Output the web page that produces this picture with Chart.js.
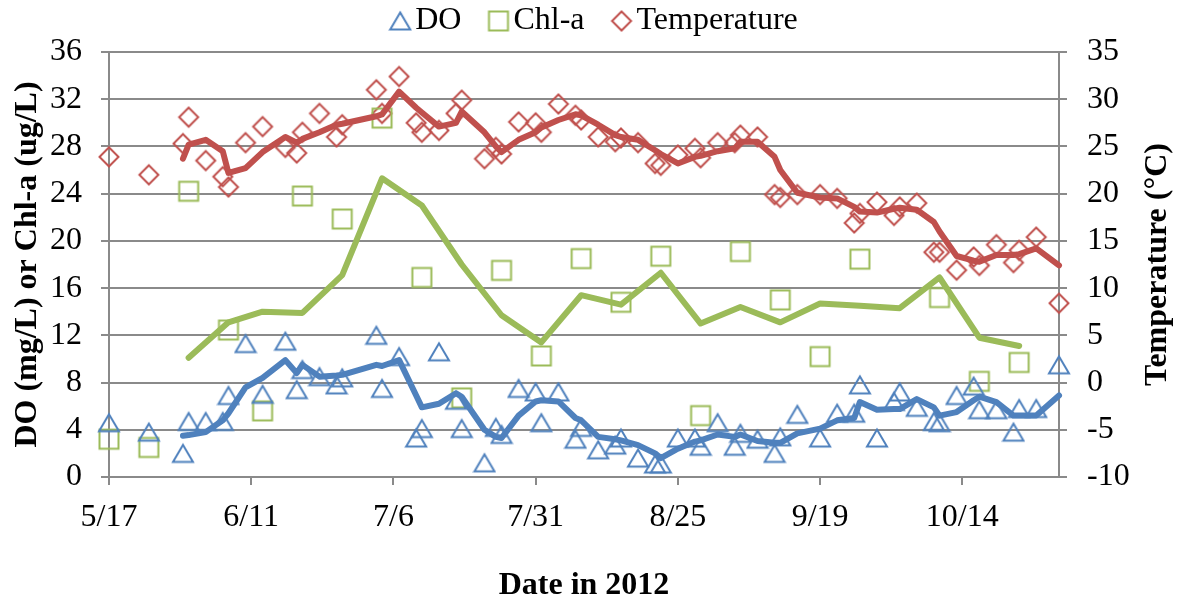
<!DOCTYPE html>
<html>
<head>
<meta charset="utf-8">
<script src="https://cdn.jsdelivr.net/npm/chart.js@4.4.1/dist/chart.umd.min.js"></script>
<style>
  html, body { margin: 0; padding: 0; background: #fff; }
  canvas { display: block; }
</style>
</head>
<body>
<canvas id="chart" width="1177" height="602"></canvas>
<script>
// sampling dates (DO and temperature measured on the same days)
const sampleDates = ['5/17','5/24','5/30','5/31','6/3','6/6','6/7','6/10','6/13','6/17',
  '6/19','6/20','6/23','6/26','6/27','7/3','7/4','7/7','7/10','7/11',
  '7/14','7/17','7/18','7/22','7/24','7/25','7/28','7/31','8/1','8/4',
  '8/7','8/8','8/11','8/14','8/15','8/18','8/21','8/22','8/25','8/28',
  '8/29','9/1','9/4','9/5','9/8','9/11','9/12','9/15','9/19','9/22',
  '9/25','9/26','9/29','10/2','10/3','10/6','10/9','10/10','10/13','10/16',
  '10/17','10/20','10/23','10/24','10/27','10/31'];

const doValues = [4.6, 3.8, 2.0, 4.7, 4.7, 4.7, 6.9, 11.3, 7.0, 11.5,
  7.4, 9.1, 8.5, 7.8, 8.4, 12.0, 7.5, 10.2, 3.3, 4.1,
  10.6, 6.5, 4.1, 1.2, 4.2, 3.6, 7.5, 7.2, 4.6, 7.2,
  3.2, 4.2, 2.3, 2.7, 3.3, 1.6, 1.1, 1.1, 3.3, 3.3,
  2.6, 4.6, 2.6, 3.7, 3.2, 2.0, 3.4, 5.3, 3.3, 5.4,
  5.4, 7.8, 3.3, 6.4, 7.2, 5.9, 4.7, 4.6, 6.9, 7.7,
  5.7, 5.7, 3.8, 5.8, 5.8, 9.5];

const doTrend = [null, null, 3.5, 3.55, 3.8, 4.8, 5.4, 7.6, 8.4, 9.9,
  8.8, 9.5, 8.5, 8.6, 8.65, 9.5, 9.4, 9.9, 6.9, 5.9,
  6.2, 7.1, 6.8, 4.0, 3.4, 3.3, 5.2, 6.4, 6.5, 6.4,
  5.0, 4.8, 3.4, 3.2, 3.1, 2.7, 2.0, 1.6, 2.4, 3.0,
  3.1, 3.6, 3.4, 3.6, 3.05, 2.9, 2.9, 3.7, 4.1, 4.8,
  5.0, 6.35, 5.7, 5.75, 5.75, 6.6, 5.9, 5.2, 5.5, 6.5,
  6.8, 6.35, 5.2, 5.2, 5.2, 6.9];

const tempValues = [23.9, 22.0, 25.3, 28.1, 23.5, 21.8, 20.7, 25.4, 27.1, 24.9,
  24.3, 26.5, 28.5, 26.0, 27.3, 31.0, 28.5, 32.4, 27.5, 26.5,
  26.7, 28.5, 29.9, 23.7, 24.9, 24.2, 27.6, 27.5, 26.5, 29.5,
  28.3, 27.8, 26.0, 25.5, 25.9, 25.4, 23.2, 23.0, 24.1, 24.8,
  23.8, 25.4, 25.4, 26.2, 26.0, 19.9, 19.6, 19.9, 19.9, 19.5,
  16.9, 17.9, 19.1, 17.7, 18.6, 19.0, 13.8, 13.8, 11.9, 13.3,
  12.4, 14.6, 12.7, 14.0, 15.4, 8.4];

const tempTrend = [null, null, 23.7, 25.2, 25.7, 24.5, 22.2, 22.7, 24.4, 26.0,
  25.4, 25.8, 26.5, 27.3, 27.4, 28.2, 28.4, 30.8, 29.1, 28.6,
  27.1, 27.5, 28.7, 26.5, 25.0, 24.4, 25.7, 26.5, 27.0, 27.8,
  28.4, 28.3, 27.3, 26.2, 26.0, 25.7, 24.6, 24.2, 23.2, 23.9,
  24.0, 24.5, 24.8, 25.5, 25.5, 23.9, 22.5, 20.1, 19.6, 19.5,
  18.6, 18.1, 18.0, 18.4, 18.5, 18.3, 17.0, 16.0, 13.4, 12.9,
  12.8, 13.5, 13.5, 13.6, 14.2, 12.4];

// Chl-a sampled weekly
const chlDates = ['5/17','5/24','5/31','6/7','6/13','6/20','6/27','7/4','7/11','7/18',
  '7/25','8/1','8/8','8/15','8/22','8/29','9/5','9/12','9/19','9/26',
  '10/10','10/17','10/24'];
const chlValues = [3.2, 2.5, 24.2, 12.45, 5.6, 23.8, 21.85, 30.4, 16.9, 6.7,
  17.5, 10.25, 18.5, 14.8, 18.7, 5.2, 19.1, 15.0, 10.2, 18.45,
  15.2, 8.1, 9.7];

const chlTrendDates = ['5/31','6/7','6/13','6/20','6/27','7/4','7/11','7/18','7/25','8/1',
  '8/8','8/15','8/22','8/29','9/5','9/12','9/19','9/26','10/3','10/10',
  '10/17','10/24'];
const chlTrend = [10.1, 13.1, 14.0, 13.9, 17.1, 25.3, 23.0, 18.0, 13.7, 11.4,
  15.4, 14.6, 17.3, 13.0, 14.4, 13.1, 14.7, 14.5, 14.3, 16.9,
  11.8, 11.1];

const xTickLabels = ['5/17','6/11','7/6','7/31','8/25','9/19','10/14'];
const xEnd = '10/31';

const FONT = "'Times New Roman', 'Liberation Serif', serif";
const FS = 32;
const GRID = '#8a8a8a';
const BLUE = '#4f81bd', GREEN = '#9bbb59', RED = '#c0504d';

// days since 5/17/2012
function dayOf(s) {
    const [m, d] = s.split('/').map(Number);
    return (Date.UTC(2012, m - 1, d) - Date.UTC(2012, 4, 17)) / 86400000;
}
function dateLabel(v) {
    const dt = new Date(Date.UTC(2012, 4, 17) + v * 86400000);
    return (dt.getUTCMonth() + 1) + '/' + dt.getUTCDate();
}
function points(dates, values) {
    const out = [];
    dates.forEach((d, i) => {
        if (values[i] !== null) out.push({ x: dayOf(d), y: values[i] });
    });
    return out;
}

// hollow marker images
function marker(kind, color) {
    const c = document.createElement('canvas');
    c.width = 24; c.height = 24;
    const g = c.getContext('2d');
    g.strokeStyle = color;
    g.lineWidth = 2;
    g.beginPath();
    if (kind === 'tri') {
        g.moveTo(12, 3.5); g.lineTo(22, 20.5); g.lineTo(2, 20.5); g.closePath();
    } else if (kind === 'sq') {
        g.rect(2.5, 2.5, 19, 19);
    } else {
        g.moveTo(12, 2.5); g.lineTo(21.5, 12); g.lineTo(12, 21.5); g.lineTo(2.5, 12); g.closePath();
    }
    g.stroke();
    return c;
}
const triImg = marker('tri', BLUE);
const sqImg = marker('sq', GREEN);
const diaImg = marker('dia', RED);

// legend + right axis title (reads bottom to top, like the left one)
const extras = {
    id: 'extras',
    afterDraw(chart) {
        const ctx = chart.ctx;
        const area = chart.chartArea;
        ctx.save();
        ctx.fillStyle = '#000';
        ctx.textBaseline = 'middle';
        ctx.font = FS + 'px ' + FONT;
        const items = chart.data.datasets.filter(d => d.inLegend);
        const widths = items.map(d => ctx.measureText(d.label).width);
        const total = 10 + widths.reduce((a, w) => a + 15 + w, 0) + 37 * (items.length - 1);
        let cx = 594 - total / 2 + 10;
        const cy = 21;
        items.forEach((d, i) => {
            ctx.drawImage(d.pointStyle, cx - 12, cy - 12);
            ctx.fillText(d.label, cx + 15, cy);
            cx += 15 + widths[i] + 37;
        });
        ctx.font = 'bold ' + FS + 'px ' + FONT;
        ctx.textAlign = 'center';
        ctx.translate(chart.width - 19, (area.top + area.bottom) / 2);
        ctx.rotate(-Math.PI / 2);
        ctx.fillText('Temperature (°C)', 0, 0);
        ctx.restore();
    }
};

const lineStyle = {
    showLine: true, pointRadius: 0, pointHoverRadius: 0, borderWidth: 6,
    borderJoinStyle: 'round', borderCapStyle: 'round', clip: false, order: 0
};

new Chart(document.getElementById('chart'), {
    type: 'scatter',
    data: {
        datasets: [
            { label: 'DO', inLegend: true, data: points(sampleDates, doValues), yAxisID: 'y',
              pointStyle: triImg, borderColor: BLUE, clip: false, order: 1 },
            { label: 'Chl-a', inLegend: true, data: points(chlDates, chlValues), yAxisID: 'y',
              pointStyle: sqImg, borderColor: GREEN, clip: false, order: 1 },
            { label: 'Temperature', inLegend: true, data: points(sampleDates, tempValues), yAxisID: 'y1',
              pointStyle: diaImg, borderColor: RED, clip: false, order: 1 },
            Object.assign({ label: 'DO trend', data: points(sampleDates, doTrend), yAxisID: 'y', borderColor: BLUE }, lineStyle),
            Object.assign({ label: 'Chl-a trend', data: points(chlTrendDates, chlTrend), yAxisID: 'y', borderColor: GREEN }, lineStyle),
            Object.assign({ label: 'Temperature trend', data: points(sampleDates, tempTrend), yAxisID: 'y1', borderColor: RED }, lineStyle)
        ]
    },
    options: {
        responsive: false,
        devicePixelRatio: 1,
        animation: false,
        layout: { padding: { top: 52, left: 0, right: 0, bottom: 0 } },
        plugins: { legend: { display: false }, tooltip: { enabled: false } },
        scales: {
            x: {
                type: 'linear',
                position: 'bottom',
                min: 0,
                max: dayOf(xEnd),
                afterBuildTicks: axis => { axis.ticks = xTickLabels.map(s => ({ value: dayOf(s) })); },
                afterFit: s => { s.height = 125; },
                ticks: { callback: v => dateLabel(v), color: '#000', font: { family: FONT, size: FS },
                         padding: 13, maxRotation: 0, autoSkip: false },
                grid: { drawOnChartArea: false, tickLength: 8, color: GRID, lineWidth: 2 },
                border: { color: GRID, width: 2 },
                title: { display: true, text: 'Date in 2012', color: '#000',
                         font: { family: FONT, size: FS, weight: 'bold', lineHeight: 1 },
                         padding: { top: 0, bottom: 0 } }
            },
            y: {
                position: 'left',
                min: 0,
                max: 36,
                afterFit: s => { s.width = 109; },
                ticks: { stepSize: 4, color: '#000', font: { family: FONT, size: FS }, padding: 19 },
                grid: { tickLength: 8, color: GRID, lineWidth: 2 },
                border: { color: GRID, width: 2 },
                title: { display: true, text: 'DO (mg/L) or Chl-a (ug/L)', color: '#000',
                         font: { family: FONT, size: FS, weight: 'bold', lineHeight: 1 },
                         padding: { top: 12, bottom: 0 } }
            },
            y1: {
                position: 'right',
                min: -10,
                max: 35,
                afterFit: s => { s.width = 118; },
                ticks: { stepSize: 5, color: '#000', font: { family: FONT, size: FS }, padding: 20 },
                grid: { drawOnChartArea: false, tickLength: 8, color: GRID, lineWidth: 2 },
                border: { color: GRID, width: 2 }
            }
        }
    },
    plugins: [extras]
});
</script>
</body>
</html>
